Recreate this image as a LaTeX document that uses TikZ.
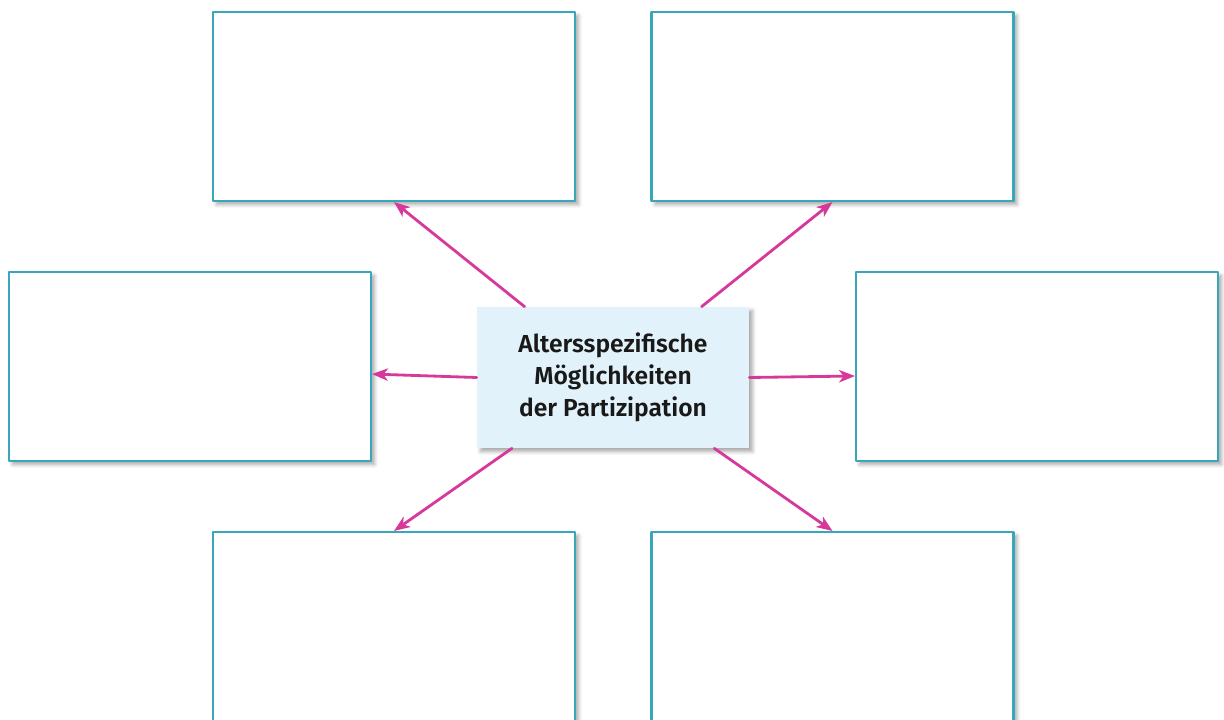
\documentclass[tikz,border=0pt]{standalone}
\usepackage{fontspec}
\setmainfont{Fira Sans}[BoldFont={Fira Sans SemiBold}]
\usetikzlibrary{arrows.meta,shadows.blur}
\definecolor{boxline}{HTML}{3AA6B9}
\definecolor{hubfill}{HTML}{E2F2FA}
\definecolor{arrowpink}{HTML}{D6399A}
\begin{document}
\begin{tikzpicture}[line cap=round,line join=round,x=0.02cm,y=-0.02cm,
  answerbox/.style={draw=boxline,line width=1.2pt,fill=white,minimum width=7.24cm,
    minimum height=3.78cm,inner sep=0pt,blur shadow={shadow xshift=2pt,shadow yshift=-2pt,shadow blur steps=6,shadow opacity=35}},
  lowbox/.style={answerbox,minimum height=4.4cm},
  hubbox/.style={fill=hubfill,minimum width=5.44cm,minimum height=2.82cm,inner sep=0pt,align=center,
    font=\fontsize{14}{18.1}\selectfont\bfseries,text=black!90,
    blur shadow={shadow xshift=2pt,shadow yshift=-2pt,shadow blur steps=6,shadow opacity=35}},
  pointer/.style={draw=arrowpink,line width=1.6pt,-{Stealth[length=9pt,width=7pt,inset=2.5pt]}}]
\useasboundingbox (0,0) rectangle (1224,720);
% boxes to fill in
\node[answerbox] (topleft) at (394,106.5) {};
\node[answerbox] (topright) at (832.5,106.5) {};
\node[answerbox] (midleft) at (190,366.5) {};
\node[answerbox] (midright) at (1037,366.5) {};
\node[lowbox] (lowleft) at (394,642) {};
\node[lowbox] (lowright) at (832.5,642) {};
% middle
\node[hubbox] (hub) at (613,377.5) {Altersspezifische\\M\"oglichkeiten\\der Partizipation};
\draw[pointer] (hub) -- (topleft.south);
\draw[pointer] (hub) -- (topright.south);
\draw[pointer] (hub.west) -- ([yshift=-4.3pt]midleft.east);
\draw[pointer] (hub.east) -- ([yshift=-5.4pt]midright.west);
\draw[pointer] (hub) -- (lowleft.north);
\draw[pointer] (hub) -- (lowright.north);
\end{tikzpicture}
\end{document}
